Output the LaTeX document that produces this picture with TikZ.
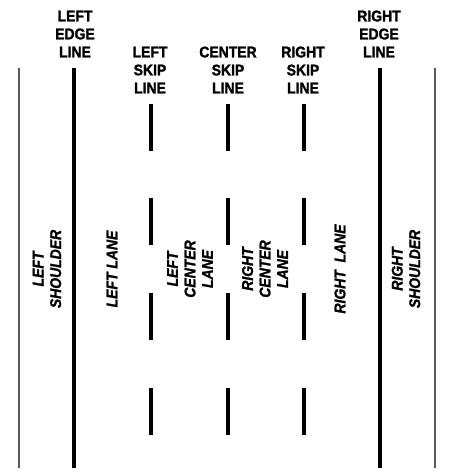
\documentclass[tikz,border=0pt]{standalone}
\usepackage{fontspec}
\setmainfont[FakeStretch=0.9, BoldFeatures={FakeBold=1.5}, BoldItalicFeatures={FakeBold=1.5}]{Liberation Sans}
\usepackage{tikz}

\begin{document}
\begin{tikzpicture}[
        x=1pt, y=-1pt,
        toplabel/.style={align=center, inner sep=0pt, font=\fontsize{15.5}{18}\selectfont\bfseries},
        lanelabel/.style={align=center, inner sep=0pt, rotate=90, font=\fontsize{15.5}{17.5}\selectfont\bfseries\itshape},
        edgeline/.style={line width=4pt},
        skipline/.style={line width=4pt},
        outerline/.style={line width=1.2pt, black!65}
        ]
        \useasboundingbox (0,0) rectangle (458,476);

        % line labels
        \node[toplabel] (leftedge) at (75,34) {LEFT\\EDGE\\LINE};
        \node[toplabel] (rightedge) at (379,34) {RIGHT\\EDGE\\LINE};
        \node[toplabel] (leftskip) at (150,70) {LEFT\\SKIP\\LINE};
        \node[toplabel] (centerskip) at (228,70) {CENTER\\SKIP\\LINE};
        \node[toplabel] (rightskip) at (303,70) {RIGHT\\SKIP\\LINE};

        % pavement lines
        \draw[outerline] (19,68) -- (19,468);
        \draw[outerline] (435,68) -- (435,468);
        \draw[edgeline] (74,68) -- (74,468);
        \draw[edgeline] (380,68) -- (380,468);
        \foreach \x in {151,228,304}
            \foreach \y in {104,198,293,388}
                \draw[skipline] (\x,\y) -- (\x,\y+47);

        % lanes
        \node[lanelabel] (leftshoulder) at (47,269) {LEFT\\SHOULDER};
        \node[lanelabel] (leftlane) at (112,269) {LEFT LANE};
        \node[lanelabel] (leftcenter) at (190,269) {LEFT\\CENTER\\LANE};
        \node[lanelabel] (rightcenter) at (265,269) {RIGHT\\CENTER\\LANE};
        \node[lanelabel] (rightlane) at (340,269) {RIGHT\ \ LANE};
        \node[lanelabel] (rightshoulder) at (406,269) {RIGHT\\SHOULDER};
    \end{tikzpicture}
\end{document}
